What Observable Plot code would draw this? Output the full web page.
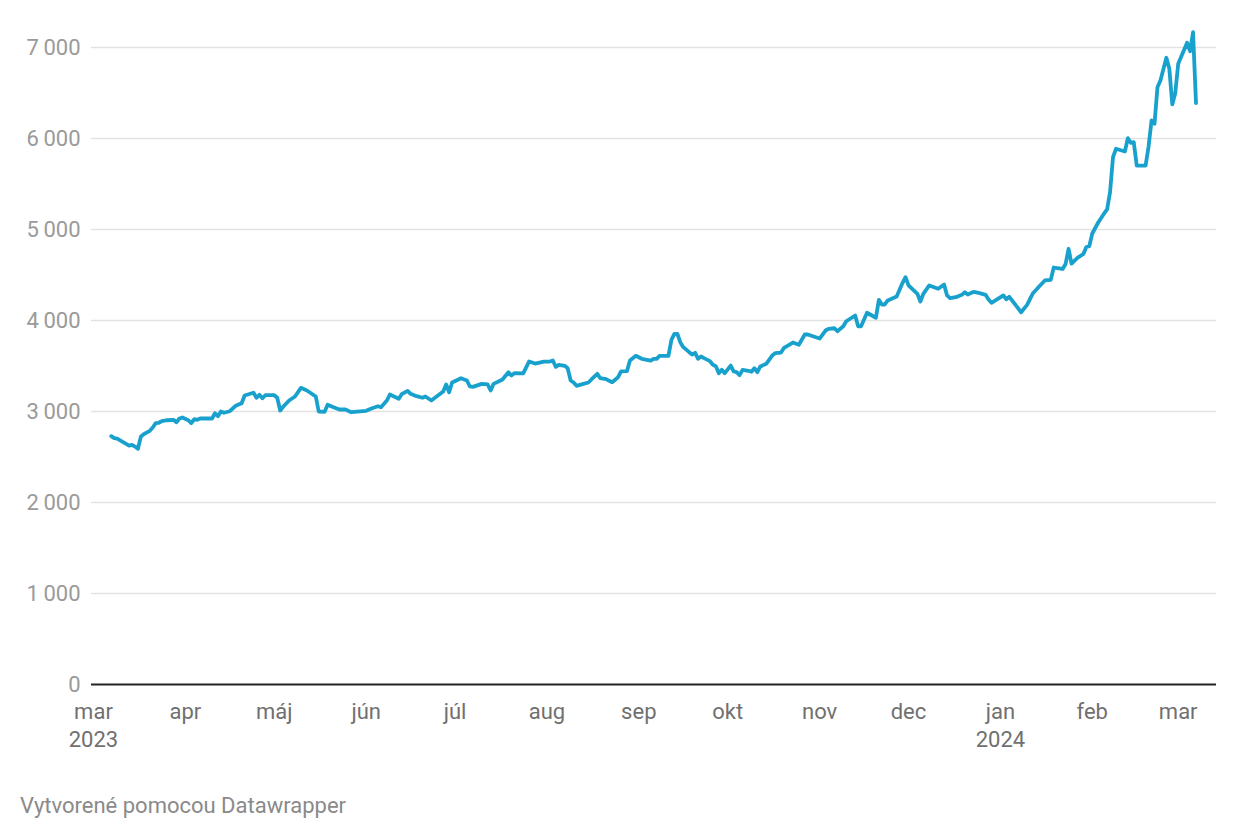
<!DOCTYPE html>
<html>
<head>
<meta charset="utf-8">
<script src="https://cdn.jsdelivr.net/npm/d3@7"></script>
<script src="https://cdn.jsdelivr.net/npm/@observablehq/plot@0.6"></script>
<style>
  html, body { margin: 0; padding: 0; background: #fff; }
  body { width: 1240px; height: 840px; overflow: hidden; font-family: Roboto, sans-serif; }
  #chart svg { display: block; }
  #caption { font-family: Roboto, sans-serif; font-size: 22px; line-height: 22px; color: #8a8a8a; padding-left: 20px; margin-top: 25px; }
</style>
</head>
<body>
<div id="chart"></div>
<div id="caption">Vytvorené pomocou Datawrapper</div>
<script>
const dates = [
"2023-03-07","2023-03-08","2023-03-09","2023-03-11","2023-03-13","2023-03-14","2023-03-15","2023-03-16","2023-03-17","2023-03-18",
"2023-03-20","2023-03-21","2023-03-22","2023-03-23","2023-03-24","2023-03-26","2023-03-28","2023-03-29","2023-03-30","2023-03-31",
"2023-04-02","2023-04-03","2023-04-04","2023-04-05","2023-04-06","2023-04-08","2023-04-10","2023-04-11","2023-04-12","2023-04-13",
"2023-04-14","2023-04-16","2023-04-18","2023-04-20","2023-04-21","2023-04-24","2023-04-25","2023-04-26","2023-04-27","2023-04-28",
"2023-05-01","2023-05-02","2023-05-03","2023-05-04","2023-05-06","2023-05-08","2023-05-10","2023-05-12","2023-05-15","2023-05-16",
"2023-05-18","2023-05-19","2023-05-21","2023-05-23","2023-05-25","2023-05-27","2023-06-01","2023-06-03","2023-06-05","2023-06-06",
"2023-06-08","2023-06-09","2023-06-12","2023-06-13","2023-06-15","2023-06-16","2023-06-18","2023-06-20","2023-06-21","2023-06-23",
"2023-06-26","2023-06-27","2023-06-28","2023-06-29","2023-06-30","2023-07-03","2023-07-05","2023-07-06","2023-07-07","2023-07-10",
"2023-07-12","2023-07-13","2023-07-14","2023-07-17","2023-07-19","2023-07-20","2023-07-21","2023-07-24","2023-07-26","2023-07-28",
"2023-07-31","2023-08-02","2023-08-03","2023-08-04","2023-08-05","2023-08-07","2023-08-08","2023-08-09","2023-08-10","2023-08-11",
"2023-08-13","2023-08-15","2023-08-16","2023-08-18","2023-08-19","2023-08-21","2023-08-22","2023-08-23","2023-08-25","2023-08-26",
"2023-08-28","2023-08-29","2023-08-31","2023-09-02","2023-09-05","2023-09-06","2023-09-07","2023-09-08","2023-09-11","2023-09-12",
"2023-09-13","2023-09-14","2023-09-15","2023-09-16","2023-09-18","2023-09-19","2023-09-20","2023-09-21","2023-09-22","2023-09-23",
"2023-09-25","2023-09-26","2023-09-27","2023-09-28","2023-09-29","2023-09-30","2023-10-02","2023-10-03","2023-10-04","2023-10-05",
"2023-10-06","2023-10-08","2023-10-09","2023-10-10","2023-10-11","2023-10-12","2023-10-14","2023-10-16","2023-10-17","2023-10-19",
"2023-10-20","2023-10-23","2023-10-25","2023-10-27","2023-10-28","2023-11-01","2023-11-03","2023-11-04","2023-11-06","2023-11-07",
"2023-11-09","2023-11-10","2023-11-13","2023-11-14","2023-11-15","2023-11-17","2023-11-20","2023-11-21","2023-11-22","2023-11-23",
"2023-11-24","2023-11-27","2023-11-29","2023-11-30","2023-12-01","2023-12-04","2023-12-05","2023-12-06","2023-12-08","2023-12-11",
"2023-12-13","2023-12-14","2023-12-15","2023-12-17","2023-12-19","2023-12-20","2023-12-21","2023-12-23","2023-12-25","2023-12-27",
"2023-12-28","2023-12-29","2024-01-02","2024-01-03","2024-01-04","2024-01-08","2024-01-10","2024-01-12","2024-01-14","2024-01-16",
"2024-01-18","2024-01-19","2024-01-22","2024-01-23","2024-01-24","2024-01-25","2024-01-27","2024-01-29","2024-01-30","2024-01-31",
"2024-02-01","2024-02-03","2024-02-05","2024-02-06","2024-02-07","2024-02-08","2024-02-09","2024-02-12","2024-02-13","2024-02-14",
"2024-02-15","2024-02-16","2024-02-19","2024-02-20","2024-02-21","2024-02-22","2024-02-23","2024-02-24","2024-02-26","2024-02-27",
"2024-02-28","2024-02-29","2024-03-01","2024-03-04","2024-03-05","2024-03-06","2024-03-07"
];
const values = [
2729,2707,2703,2663,2626,2634,2615,2590,2725,2751,
2788,2824,2872,2876,2893,2904,2909,2882,2923,2934,
2904,2872,2915,2909,2923,2923,2923,2981,2948,3000,
2986,3003,3063,3091,3176,3206,3151,3183,3146,3179,
3179,3151,3011,3052,3121,3165,3260,3231,3165,3000,
2997,3074,3047,3022,3022,2992,3008,3036,3058,3047,
3121,3187,3140,3190,3227,3194,3168,3151,3165,3121,
3194,3220,3297,3212,3319,3366,3341,3275,3271,3304,
3297,3231,3304,3352,3432,3396,3421,3418,3550,3527,
3549,3549,3560,3491,3513,3502,3476,3341,3319,3282,
3300,3319,3352,3414,3366,3355,3337,3322,3377,3440,
3443,3560,3612,3579,3560,3579,3579,3612,3612,3788,
3854,3854,3762,3707,3652,3626,3645,3579,3604,3586,
3553,3513,3498,3421,3458,3421,3505,3440,3432,3399,
3458,3447,3436,3476,3432,3495,3524,3615,3641,3648,
3700,3758,3733,3846,3846,3802,3890,3909,3915,3882,
3937,3992,4055,3937,3937,4085,4030,4227,4176,4176,
4220,4264,4414,4476,4385,4293,4209,4293,4385,4348,
4396,4275,4245,4256,4282,4311,4286,4315,4300,4282,
4231,4194,4275,4234,4260,4091,4172,4300,4370,4440,
4447,4582,4566,4621,4788,4626,4689,4731,4808,4817,
4956,5077,5176,5220,5410,5795,5887,5857,6003,5953,
5959,5703,5703,5912,6198,6161,6564,6637,6887,6766,
6374,6498,6821,7052,6959,7168,6388
];
const yTicks = [0, 1000, 2000, 3000, 4000, 5000, 6000, 7000];
const monthTicks = ["2023-03-01","2023-04-01","2023-05-01","2023-06-01","2023-07-01","2023-08-01","2023-09-01","2023-10-01","2023-11-01","2023-12-01","2024-01-01","2024-02-01","2024-03-01"];
const monthLabels = ["mar\n2023","apr","máj","jún","júl","aug","sep","okt","nov","dec","jan\n2024","feb","mar"];

const data = dates.map((d, i) => ({date: new Date(d + "T00:00:00Z"), value: values[i]}));
const ticks = monthTicks.map((d, i) => ({date: new Date(d + "T00:00:00Z"), label: monthLabels[i]}));
const x0 = new Date("2023-02-28T08:00:00Z");
const x1 = new Date("2024-03-13T22:00:00Z");
const fmt = v => d3.format(",")(v).replace(/,/g, "\u2009");

const chart = Plot.plot({
  width: 1240,
  height: 770,
  marginTop: 47,
  marginBottom: 86,
  marginLeft: 91,
  marginRight: 24,
  style: {fontFamily: "Roboto, sans-serif", background: "#fff"},
  x: {type: "utc", domain: [x0, x1], axis: null},
  y: {domain: [0, 7000], axis: null},
  marks: [
    Plot.ruleY(yTicks.filter(d => d > 0), {stroke: "#e2e2e2", strokeWidth: 1.5}),
    Plot.text(yTicks, {x: x0, y: d => d, text: d => fmt(d), textAnchor: "end", dx: -11, fill: "#9a9a9a", fontSize: 22}),
    Plot.ruleY([0], {stroke: "#222", strokeWidth: 2}),
    Plot.line(data, {x: "date", y: "value", stroke: "#18a1cd", strokeWidth: 3.8, strokeLinejoin: "round", strokeLinecap: "round"}),
    Plot.text(ticks, {x: "date", y: 0, text: "label", lineAnchor: "top", dy: 14, lineHeight: 1.28, fill: "#707070", fontSize: 22})
  ]
});
document.getElementById("chart").appendChild(chart);
</script>
</body>
</html>
